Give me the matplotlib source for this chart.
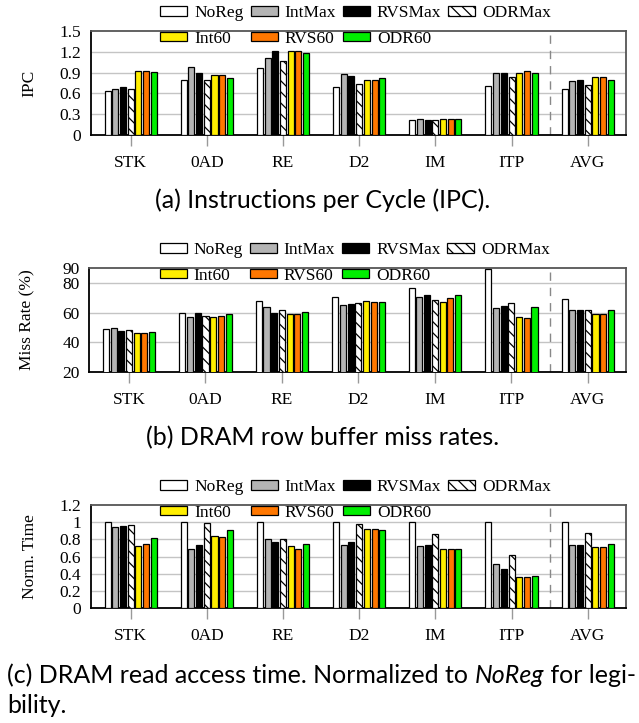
import matplotlib
matplotlib.use("Agg")
import matplotlib.pyplot as plt
import numpy as np

# benchmarks and configurations
apps = ["STK", "0AD", "RE", "D2", "IM", "ITP", "AVG"]
configs = ["NoReg", "IntMax", "RVSMax", "ODRMax", "Int60", "RVS60", "ODR60"]

# (a) IPC, one list per config, in app order
ipc_noreg = [0.64, 0.79, 0.96, 0.69, 0.21, 0.70, 0.67]
ipc_intmax = [0.67, 0.98, 1.11, 0.88, 0.23, 0.90, 0.78]
ipc_rvsmax = [0.69, 0.90, 1.21, 0.85, 0.22, 0.89, 0.79]
ipc_odrmax = [0.67, 0.80, 1.07, 0.74, 0.22, 0.83, 0.72]
ipc_int60 = [0.93, 0.86, 1.21, 0.80, 0.23, 0.90, 0.84]
ipc_rvs60 = [0.92, 0.86, 1.21, 0.80, 0.23, 0.92, 0.84]
ipc_odr60 = [0.91, 0.82, 1.19, 0.82, 0.23, 0.90, 0.80]

# (b) DRAM row buffer miss rate (%)
miss_noreg = [49.2, 60.0, 67.9, 70.3, 76.6, 89.2, 69.0]
miss_intmax = [49.4, 57.1, 63.6, 65.4, 70.8, 63.4, 61.6]
miss_rvsmax = [47.4, 59.8, 59.6, 65.6, 71.9, 64.3, 61.6]
miss_odrmax = [48.5, 57.8, 61.8, 66.7, 68.3, 66.5, 61.6]
miss_int60 = [46.5, 56.9, 58.9, 67.6, 67.2, 56.9, 59.1]
miss_rvs60 = [46.5, 57.5, 59.3, 67.2, 69.9, 56.4, 59.3]
miss_odr60 = [47.0, 59.3, 60.7, 67.4, 71.5, 63.6, 61.6]

# (c) normalized DRAM read access time
time_noreg = [1.00, 1.00, 1.00, 1.00, 1.00, 1.00, 1.00]
time_intmax = [0.94, 0.69, 0.80, 0.74, 0.72, 0.51, 0.73]
time_rvsmax = [0.95, 0.73, 0.77, 0.77, 0.73, 0.45, 0.73]
time_odrmax = [0.97, 0.99, 0.80, 0.98, 0.86, 0.62, 0.87]
time_int60 = [0.72, 0.84, 0.72, 0.92, 0.69, 0.36, 0.71]
time_rvs60 = [0.75, 0.83, 0.69, 0.92, 0.69, 0.36, 0.71]
time_odr60 = [0.82, 0.91, 0.75, 0.91, 0.69, 0.37, 0.75]

ipc = [ipc_noreg, ipc_intmax, ipc_rvsmax, ipc_odrmax, ipc_int60, ipc_rvs60, ipc_odr60]
miss = [miss_noreg, miss_intmax, miss_rvsmax, miss_odrmax, miss_int60, miss_rvs60, miss_odr60]
rtime = [time_noreg, time_intmax, time_rvsmax, time_odrmax, time_int60, time_rvs60, time_odr60]

# bar styles
colors = ["white", "#b4b4b4", "black", "white", "#ffee00", "#ff7700", "#00ee00"]
hatches = [None, None, None, "\\" * 3, None, None, None]

plt.rcParams["font.family"] = "Liberation Serif"
plt.rcParams["font.size"] = 12.5
plt.rcParams["hatch.linewidth"] = 0.9

fig = plt.figure(figsize=(6.39, 7.23), dpi=100)

x = np.arange(len(apps))
pitch = 0.101
width = 0.079


def draw_panel(rect, data, ylim, yticks, ylabel, grid_ticks, yfmt=None):
    ax = fig.add_axes(rect)
    handles = []
    for i, vals in enumerate(data):
        b = ax.bar(x + (i - 3) * pitch, vals, width, color=colors[i],
                   edgecolor="black", linewidth=0.9, hatch=hatches[i],
                   zorder=3, label=configs[i])
        handles.append(b)
    for g in grid_ticks:
        ax.axhline(g, color="#c4c4c4", lw=1.0, zorder=1)
    ax.axvline(5.5, color="#888888", lw=1.0, ls=(0, (6, 5)), zorder=1)
    ax.set_xlim(-0.52, 6.5)
    ax.set_ylim(*ylim)
    ax.set_yticks(yticks)
    if yfmt:
        ax.set_yticklabels([yfmt(v) for v in yticks])
    ax.set_xticks(x)
    ax.set_xticklabels(apps)
    ax.tick_params(axis="x", length=8, width=1, color="#999999", pad=6.5)
    ax.tick_params(axis="y", length=0, pad=7)
    ax.set_ylabel(ylabel)
    ax.yaxis.set_label_coords(-0.10, 0.5)
    for s in ["left", "bottom"]:
        ax.spines[s].set_color("black")
        ax.spines[s].set_linewidth(1.3)
    for s in ["top", "right"]:
        ax.spines[s].set_color("#555555")
        ax.spines[s].set_linewidth(1.3)
    # legend: 4 columns, row-wise order
    order = [0, 4, 1, 5, 2, 6, 3]
    ax.legend([handles[k] for k in order], [configs[k] for k in order],
              ncol=4, loc="center", bbox_to_anchor=(0.495, 1.05),
              frameon=False, fontsize=12.5, handlelength=1.55,
              handleheight=0.45, handletextpad=0.4, columnspacing=0.4,
              labelspacing=0.55, borderpad=0)
    return ax


draw_panel([0.1424, 0.8133, 0.837, 0.1438], ipc, (0, 1.5),
           [0, 0.3, 0.6, 0.9, 1.2, 1.5], "IPC", [0.3, 0.6, 0.9, 1.2],
           yfmt=lambda v: "0" if v == 0 else f"{v:.1f}")
draw_panel([0.1397, 0.4855, 0.8400, 0.1438], miss, (20, 90),
           [20, 40, 60, 80, 90], "Miss Rate (%)", [40, 60, 80])
draw_panel([0.1424, 0.159, 0.837, 0.1425], rtime, (0, 1.2),
           [0, 0.2, 0.4, 0.6, 0.8, 1.0, 1.2], "Norm. Time",
           [0.2, 0.4, 0.6, 0.8, 1.0],
           yfmt=lambda v: "0" if v == 0 else ("1" if v == 1 else f"{v:.1f}"))

cap_font = "Lato"
cap_size = 18
fig.text(0.505, 1 - 208 / 723, "(a) Instructions per Cycle (IPC).", ha="center",
         va="baseline", family=cap_font, fontsize=cap_size)
fig.text(0.505, 1 - 445 / 723, "(b) DRAM row buffer miss rates.", ha="center",
         va="baseline", family=cap_font, fontsize=cap_size)

# caption (c) with italic NoReg
renderer = fig.canvas.get_renderer()
xpos = 7 / 639
y1 = 1 - 683 / 723
for txt, style in [("(c) DRAM read access time. Normalized to ", "normal"),
                   ("NoReg", "italic"), (" for legi-", "normal")]:
    t = fig.text(xpos, y1, txt, ha="left", va="baseline", family=cap_font,
                 fontsize=cap_size, style=style)
    bb = t.get_window_extent(renderer)
    xpos = bb.x1 / fig.bbox.width
fig.text(7 / 639, 1 - 713 / 723, "bility.", ha="left", va="baseline",
         family=cap_font, fontsize=cap_size)

fig.savefig("out.png", dpi=100)
